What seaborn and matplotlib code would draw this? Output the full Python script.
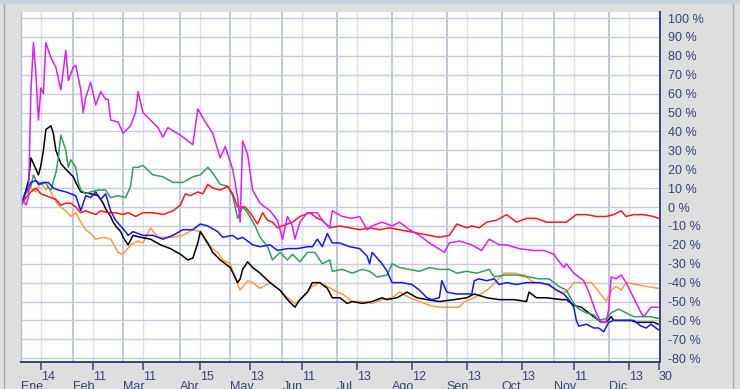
import matplotlib
matplotlib.use("Agg")
import matplotlib.pyplot as plt
from matplotlib.lines import Line2D
from matplotlib.patches import Rectangle
import pandas as pd
import seaborn as sns

# ---------------- data (trading-day index, % change) ----------------
months = ["Ene", "Feb", "Mar", "Abr", "May", "Jun", "Jul", "Ago", "Sep", "Oct", "Nov", "Dic"]
month_start_days = [0, 21, 41, 64, 84, 105, 127, 149, 171, 193, 214, 236]
day_labels = ["14", "11", "11", "15", "13", "11", "13", "12", "13", "13", "11", "13", "30"]
day_label_days = [8, 29, 49, 72, 92, 113, 135, 157, 179, 201, 222, 244, 256]
pct_ticks = list(range(-80, 101, 10))

magenta_days = [0, 1, 2, 3, 4, 5, 6, 7, 8, 9, 10, 12, 14, 16, 18, 19, 21, 22, 24, 25, 26, 28, 30, 32, 34, 35, 36,
                39, 41, 44, 46, 47, 49, 55, 57, 59, 64, 69, 71, 74, 77, 80, 82, 85, 87, 88, 89, 91, 93, 96, 100,
                103, 105, 107, 109, 110, 112, 115, 119, 121, 124, 125, 129, 133, 136, 139, 141, 145, 149, 152,
                156, 160, 164, 170, 172, 176, 181, 185, 188, 192, 195, 200, 206, 210, 214, 215, 218, 219, 222,
                226, 228, 231, 233, 235, 236, 237, 239, 241, 243, 246, 249, 250, 253, 256]
magenta_vals = [0, 3, 1, 5, 62, 87, 70, 46, 63, 60, 87, 79, 74, 62, 83, 67, 74, 75, 62, 50, 58, 66, 54, 61, 57, 57, 46,
                45, 39, 43, 50, 61, 50, 42, 37, 42, 38, 33, 52, 45, 39, 26, 32, 20, 5, -8, 35, 28, 9, 2, -2,
                -7, -17, -5, -10, -17, -8, -3, -3, -7, -11, -2, -5, -6, -5, -12, -10, -8, -10, -8,
                -12, -15, -19, -24, -19, -18, -20, -23, -17, -20, -20, -22, -23, -23, -25, -27, -32, -30, -35,
                -39, -45, -56, -61, -61, -54, -37, -38, -36, -40, -48, -56, -58, -53, -53]

black_days = [0, 2, 3, 4, 6, 7, 8, 9, 10, 12, 13, 14, 16, 18, 21, 22, 24, 28, 31, 33, 34, 36, 37, 38, 40, 41, 43,
              45, 48, 52, 56, 60, 64, 67, 69, 71, 72, 75, 77, 80, 84, 87, 88, 89, 91, 93, 96, 100, 104, 107,
              110, 112, 115, 117, 120, 123, 125, 128, 131, 133, 137, 141, 145, 147, 151, 155, 159, 163, 168,
              174, 179, 182, 187, 192, 198, 203, 204, 207, 211, 217, 219, 222, 225, 227, 230, 233, 235, 237,
              238, 241, 245, 247, 250, 251, 254, 256]
black_vals = [1, 9, 14, 26, 20, 17, 22, 30, 41, 43, 39, 30, 23, 20, 16, 13, 8, 7, 6, 2, -1, -5, -8, -10, -13, -16, -20,
              -15, -16, -17, -20, -22, -25, -28, -27, -19, -13, -19, -24, -28, -32, -40, -38, -33, -29, -32, -35, -40, -44, -49,
              -53, -49, -45, -40, -40, -43, -48, -48, -51, -50, -51, -50, -48, -49, -48, -45, -48, -49, -50,
              -49, -48, -46, -48, -49, -49, -50, -45, -48, -48, -49, -49, -52, -53, -55, -58, -61, -61, -58,
              -60, -60, -60, -61, -61, -61, -61, -62]

green_days = [0, 2, 4, 5, 6, 8, 10, 11, 12, 14, 15, 16, 18, 19, 20, 22, 23, 24, 26, 28, 31, 34, 36, 39, 42, 44, 45,
              47, 49, 53, 57, 61, 65, 69, 72, 75, 77, 80, 83, 85, 87, 89, 91, 94, 96, 99, 101, 104, 107, 109,
              112, 115, 118, 121, 124, 125, 129, 133, 137, 140, 143, 147, 149, 152, 156, 160, 164, 168, 172,
              175, 179, 183, 188, 190, 194, 199, 204, 208, 212, 214, 216, 219, 222, 224, 227, 230, 232, 235,
              237, 240, 243, 246, 249, 253, 256]
green_vals = [1, 8, 11, 17, 14, 12, 13, 10, 9, 18, 26, 38, 30, 21, 25, 21, 13, 9, 7, 8, 9, 9, 5, 6, 5, 11, 21,
              21, 22, 17, 16, 13, 13, 16, 17, 21, 18, 12, 11, 6, -6, 0, -3, -10, -16, -21, -28, -24, -28, -25,
              -29, -24, -24, -30, -28, -34, -33, -35, -33, -34, -37, -36, -30, -32, -33, -34, -32, -33, -33,
              -35, -34, -35, -33, -37, -36, -36, -37, -38, -38, -40, -42, -44, -51, -54, -56, -57, -60, -59,
              -56, -54, -56, -58, -58, -58, -59]

blue_days = [0, 2, 4, 6, 7, 9, 11, 13, 15, 18, 20, 22, 24, 26, 28, 30, 32, 34, 36, 38, 40, 42, 43, 45, 49, 53,
             57, 61, 65, 69, 72, 75, 79, 81, 85, 87, 89, 93, 96, 100, 103, 107, 111, 115, 117, 119, 121, 123,
             125, 128, 132, 136, 139, 140, 141, 145, 147, 149, 153, 157, 160, 163, 165, 168, 169, 171, 175,
             179, 181, 182, 184, 187, 190, 192, 195, 199, 203, 208, 212, 215, 218, 220, 222, 223, 224, 227,
             230, 232, 234, 236, 238, 242, 246, 249, 251, 253, 255, 256]
blue_vals = [1, 8, 13, 14, 12, 13, 13, 10, 9, 8, 7, 6, -2, 6, 5, 8, 4, 7, -2, -7, -10, -13, -15, -13, -15, -15,
             -17, -15, -12, -12, -9, -10, -13, -16, -15, -17, -16, -20, -21, -20, -23, -22, -22, -21, -21, -17, -21, -14,
             -19, -19, -21, -22, -26, -30, -24, -30, -34, -40, -40, -41, -44, -48, -49, -48, -39, -45, -46,
             -46, -46, -39, -38, -39, -38, -41, -40, -41, -40, -40, -41, -44, -46, -49, -53, -60, -63, -62,
             -64, -64, -66, -61, -60, -60, -60, -63, -64, -62, -64, -65]

orange_days = [0, 2, 4, 6, 8, 10, 11, 13, 15, 18, 20, 22, 24, 26, 28, 30, 33, 36, 39, 41, 44, 47, 49, 52, 55, 57,
               61, 65, 69, 72, 75, 77, 79, 81, 84, 87, 88, 91, 93, 96, 100, 104, 107, 110, 113, 117, 120, 123,
               127, 129, 133, 137, 141, 145, 149, 152, 156, 160, 164, 168, 172, 176, 178, 182, 186, 188, 191,
               194, 198, 202, 204, 206, 208, 211, 214, 217, 219, 222, 226, 229, 231, 235, 237, 239, 241, 243,
               247, 251, 256]
orange_vals = [1, 7, 10, 8, 13, 9, 11, 5, 1, -2, -5, -3, -8, -12, -14, -17, -16, -17, -24, -25, -20, -18, -19, -11, -16, -16,
               -16, -15, -12, -13, -20, -22, -24, -28, -30, -41, -44, -39, -40, -43, -40, -44, -48, -51, -48, -42, -40, -42,
               -45, -46, -50, -50, -51, -49, -48, -45, -48, -50, -52, -53, -53, -53, -50, -48, -45, -43, -39,
               -35, -35, -36, -38, -40, -40, -41, -43, -45, -45, -40, -40, -40, -43, -50, -44, -42, -44, -40,
               -41, -42, -43]

red_days = [0, 2, 4, 6, 8, 10, 12, 14, 16, 18, 20, 22, 24, 26, 30, 32, 35, 38, 41, 43, 46, 49, 53, 57, 61, 64,
            66, 68, 71, 73, 75, 77, 80, 83, 85, 87, 90, 92, 94, 95, 97, 99, 101, 103, 107, 109, 112, 116, 119,
            121, 124, 128, 132, 136, 140, 144, 148, 152, 156, 160, 164, 168, 172, 175, 179, 181, 184, 187, 191,
            195, 199, 203, 207, 211, 215, 219, 223, 227, 231, 235, 238, 241, 243, 246, 250, 254, 256]
red_vals = [1, 5, 8, 10, 7, 6, 5, 4, 1, 2, 2, 0, -3, -2, -4, -2, -3, -3, -4, -3, -5, -3, -3, -4, -2, 1,
            7, 6, 8, 7, 12, 10, 9, 11, 7, 0, 0, -3, -7, -9, -3, -7, -8, -11, -9, -8, -5, -3, -6,
            -7, -11, -10, -11, -12, -11, -12, -11, -12, -13, -14, -15, -16, -15, -9, -11, -10, -11, -8, -7,
            -4, -8, -6, -6, -8, -8, -8, -4, -4, -5, -5, -4, -2, -5, -4, -4, -5, -6]

series_order = ["orange", "black", "green", "blue", "red", "magenta"]
series_data = {
    "magenta": (magenta_days, magenta_vals),
    "black": (black_days, black_vals),
    "green": (green_days, green_vals),
    "blue": (blue_days, blue_vals),
    "orange": (orange_days, orange_vals),
    "red": (red_days, red_vals),
}
palette = {"magenta": "#dc1cff", "black": "#000000", "green": "#2ea05a",
           "blue": "#1414ff", "orange": "#ff9a3c", "red": "#ff1414"}

frames = []
for name in series_order:
    d, v = series_data[name]
    frames.append(pd.DataFrame({"day": d, "pct": v, "series": name}))
df = pd.concat(frames, ignore_index=True)

# ---------------- figure ----------------
sns.set_theme(style="white")
plt.rcParams["font.family"] = ["Liberation Sans", "DejaVu Sans"]

navy = "#34437c"
bg = "#dedede"
W, H = 740, 389
fig = plt.figure(figsize=(W / 100, H / 100), dpi=100, facecolor=bg)
ax = fig.add_axes([21 / W, 1 - 362 / H, 639 / W, 350 / H])
ax.set_facecolor("white")

sns.lineplot(data=df, x="day", y="pct", hue="series", hue_order=series_order, palette=palette,
             estimator=None, sort=False, linewidth=1.1, legend=False, ax=ax)

ax.set_xlim(0, 256.6)
ax.set_ylim(-82, 103.2)
ax.set_xlabel("")
ax.set_ylabel("")

# y axis on the right
ax.yaxis.tick_right()
ax.set_yticks(pct_ticks, labels=[f"{p} %" for p in pct_ticks])
ax.tick_params(axis="y", which="both", length=0, pad=5.5, labelsize=9, labelcolor=navy,
               left=False, right=False)

# x axis: month starts (major) + day labels (minor)
ax.set_xticks(month_start_days, labels=months)
ax.set_xticks(day_label_days, labels=day_labels, minor=True)
ax.tick_params(axis="x", which="major", direction="out", length=9.8, width=1.1, color=navy,
               pad=4.2, labelsize=9, labelcolor=navy)
ax.tick_params(axis="x", which="minor", direction="out", length=5.8, width=1.1, color=navy,
               pad=0.6, labelsize=9, labelcolor=navy, bottom=True)
for lab in ax.get_xticklabels(which="both"):
    lab.set_horizontalalignment("left")

# grid
ax.set_axisbelow(True)
ax.grid(True, axis="y", which="major", color="#c4cbe0", linewidth=1.0)
ax.grid(True, axis="x", which="major", color="#aeb8d4", linewidth=1.1)
ax.grid(True, axis="x", which="minor", color="#dadfec", linewidth=1.0)

# spines
for s in ["top"]:
    ax.spines[s].set_visible(False)
ax.spines["left"].set_color("#b4bdd6")
ax.spines["left"].set_linewidth(1.0)
ax.spines["bottom"].set_color(navy)
ax.spines["bottom"].set_linewidth(1.4)
ax.spines["right"].set_color(navy)
ax.spines["right"].set_linewidth(1.4)

# outer frame details
fig.patches.append(Rectangle((0, 1 - 4 / H), 1, 4 / H, transform=fig.transFigure,
                             facecolor="#c8d2dc", edgecolor="none", zorder=0))
fig.lines.append(Line2D([4 / W, 4 / W], [0, 1 - 4 / H], transform=fig.transFigure,
                        color="#a9a9b4", linewidth=1.0))
fig.lines.append(Line2D([733 / W, 733 / W], [0, 1 - 4 / H], transform=fig.transFigure,
                        color="#a9a9b4", linewidth=1.0))

fig.savefig("out.png", dpi=100, facecolor=bg)
